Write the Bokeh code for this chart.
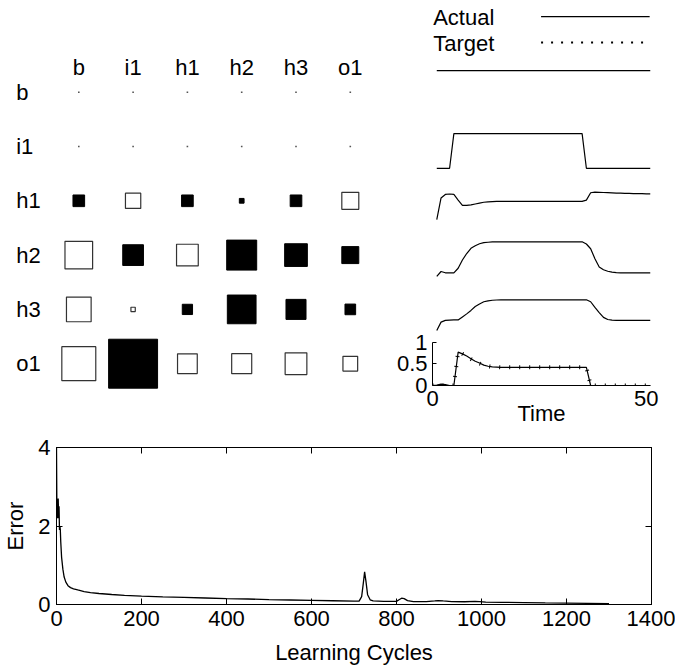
import numpy as np
from bokeh.plotting import figure
from bokeh.layouts import column, row
from bokeh.models import Range1d, FixedTicker, LinearAxis, Label, Arrow
from bokeh.core.properties import value
from bokeh.embed import file_html
from bokeh.resources import INLINE

FONT = "Liberation Sans"
FS = "22px"

# ------------------------------------------------------------------ data
UNITS = ["b", "i1", "h1", "h2", "h3", "o1"]

# Hinton diagram: WEIGHTS[receiving unit][sending unit]; positive = filled
WEIGHTS = [
    [0.0, 0.0, 0.0, 0.0, 0.0, 0.0],
    [0.0, 0.0, 0.0, 0.0, 0.0, 0.0],
    [1.18, -1.55, 1.18, 0.48, 1.18, -1.72],
    [-2.80, 2.10, -2.20, 3.04, 2.30, 1.72],
    [-2.50, -0.44, 1.04, 2.91, 2.03, 1.08],
    [-3.44, 4.96, -2.00, -2.03, -2.20, -1.49],
]

# unit activations over time (hidden/input traces are recorded for t = 1..51)
T_UNIT = list(range(1, 52))
ACT_B = [1.0, 1.0, 1.0, 1.0, 1.0, 1.0, 1.0, 1.0, 1.0, 1.0,
         1.0, 1.0, 1.0, 1.0, 1.0, 1.0, 1.0, 1.0, 1.0, 1.0,
         1.0, 1.0, 1.0, 1.0, 1.0, 1.0, 1.0, 1.0, 1.0, 1.0,
         1.0, 1.0, 1.0, 1.0, 1.0, 1.0, 1.0, 1.0, 1.0, 1.0,
         1.0, 1.0, 1.0, 1.0, 1.0, 1.0, 1.0, 1.0, 1.0, 1.0, 1.0]
ACT_I1 = [0.0, 0.0, 0.0, 0.0, 0.8, 0.8, 0.8, 0.8, 0.8, 0.8,
          0.8, 0.8, 0.8, 0.8, 0.8, 0.8, 0.8, 0.8, 0.8, 0.8,
          0.8, 0.8, 0.8, 0.8, 0.8, 0.8, 0.8, 0.8, 0.8, 0.8,
          0.8, 0.8, 0.8, 0.8, 0.8, 0.0, 0.0, 0.0, 0.0, 0.0,
          0.0, 0.0, 0.0, 0.0, 0.0, 0.0, 0.0, 0.0, 0.0, 0.0, 0.0]
ACT_H1 = [0.07, 0.57, 0.65, 0.66, 0.65, 0.52, 0.40, 0.40, 0.41, 0.43,
          0.45, 0.47, 0.48, 0.485, 0.49, 0.49, 0.49, 0.49, 0.49, 0.49,
          0.49, 0.49, 0.49, 0.49, 0.49, 0.49, 0.49, 0.49, 0.49, 0.49,
          0.49, 0.49, 0.49, 0.49, 0.49, 0.52, 0.69, 0.705, 0.70, 0.695,
          0.69, 0.685, 0.68, 0.68, 0.675, 0.675, 0.67, 0.67, 0.67, 0.665, 0.665]
ACT_H2 = [0.01, 0.125, 0.095, 0.095, 0.095, 0.20, 0.39, 0.54, 0.66, 0.72,
          0.765, 0.79, 0.80, 0.81, 0.81, 0.81, 0.81, 0.81, 0.81, 0.81,
          0.81, 0.81, 0.81, 0.81, 0.81, 0.81, 0.81, 0.81, 0.81, 0.81,
          0.81, 0.81, 0.81, 0.81, 0.81, 0.76, 0.65, 0.42, 0.23, 0.165,
          0.13, 0.11, 0.10, 0.095, 0.095, 0.095, 0.095, 0.095, 0.095, 0.095, 0.095]
ACT_H3 = [0.016, 0.21, 0.25, 0.255, 0.26, 0.26, 0.33, 0.40, 0.48, 0.57,
          0.63, 0.68, 0.70, 0.715, 0.72, 0.725, 0.725, 0.725, 0.725, 0.725,
          0.725, 0.725, 0.725, 0.725, 0.725, 0.725, 0.725, 0.725, 0.725, 0.725,
          0.725, 0.725, 0.725, 0.725, 0.725, 0.725, 0.68, 0.55, 0.43, 0.32,
          0.27, 0.255, 0.25, 0.25, 0.25, 0.25, 0.25, 0.25, 0.25, 0.25, 0.25]

# output unit (t = 0..51)
T_OUT = list(range(0, 52))
ACT_O1 = [0.0, 0.01, 0.03, 0.02, 0.0, 0.0, 0.77, 0.73, 0.68, 0.62,
          0.56, 0.52, 0.47, 0.445, 0.43, 0.425, 0.42, 0.42, 0.42, 0.42,
          0.42, 0.42, 0.42, 0.42, 0.42, 0.42, 0.42, 0.42, 0.42, 0.42,
          0.42, 0.42, 0.42, 0.42, 0.42, 0.42, 0.42, 0.0, 0.0, 0.0,
          0.0, 0.0, 0.0, 0.0, 0.0, 0.0, 0.0, 0.0, 0.0, 0.0, 0.0, 0.0]
TARGET_O1 = [0.0, 0.0, 0.0, 0.0, 0.0, 0.0, 0.78, 0.73, 0.67, 0.61,
             0.56, 0.51, 0.47, 0.445, 0.43, 0.425, 0.42, 0.42, 0.42, 0.42,
             0.42, 0.42, 0.42, 0.42, 0.42, 0.42, 0.42, 0.42, 0.42, 0.42,
             0.42, 0.42, 0.42, 0.42, 0.42, 0.42, 0.42, 0.0, 0.0, 0.0,
             0.0, 0.0, 0.0, 0.0, 0.0, 0.0, 0.0, 0.0, 0.0, 0.0, 0.0, 0.0]
TRACES = [ACT_B, ACT_I1, ACT_H1, ACT_H2, ACT_H3]

# learning curve
ERR_CYCLES = [0, 1, 2, 3, 4, 5, 6, 7, 8, 9,
              10, 12, 15, 18, 22, 27, 33, 40, 50, 65,
              80, 100, 130, 160, 200, 250, 300, 350, 400, 450,
              500, 550, 600, 650, 700, 712, 718, 722, 725, 728,
              732, 738, 745, 770, 800, 806, 812, 818, 826, 840,
              870, 890, 898, 910, 930, 960, 985, 995, 1010, 1050,
              1100, 1150, 1200, 1250, 1300]
ERR_VALUES = [4.0, 2.3, 2.2, 2.6, 2.7, 2.2, 2.5, 1.9, 2.0, 1.9,
              1.6, 1.2, 0.9, 0.7, 0.57, 0.48, 0.43, 0.40, 0.37, 0.33,
              0.30, 0.28, 0.255, 0.235, 0.215, 0.195, 0.18, 0.165, 0.15, 0.14,
              0.125, 0.115, 0.105, 0.095, 0.085, 0.085, 0.2, 0.55, 0.83, 0.6,
              0.25, 0.12, 0.09, 0.08, 0.08, 0.12, 0.16, 0.15, 0.10, 0.075,
              0.075, 0.09, 0.10, 0.09, 0.075, 0.07, 0.08, 0.075, 0.06, 0.055,
              0.05, 0.04, 0.035, 0.03, 0.02]

ERR_XTICKS = [0, 200, 400, 600, 800, 1000, 1200, 1400]
ERR_YTICKS = [0, 2, 4]
OUT_YTICKS = [0, 0.5, 1]
TIME_TICKS = [0, 50]

# ------------------------------------------------------------------ layout constants
CELL_PX = 54.3                 # pitch of the Hinton grid
COL0_X, ROW0_Y = 78.3, 91.7    # centre of first Hinton cell
WEIGHT_PX = 9.87               # square side per unit of weight
HW = 392                       # Hinton canvas width

TW, TH = 283, 430              # traces canvas (same height as Hinton)
T_BL, T_BR, T_BT, T_BB = 40, 25, 0, 45
BAND_PX = 43.3                 # pixels per activation unit
O1_ZERO_Y = TH - T_BB          # pixel row of o1 = 0 (bottom axis)

EW, EH = 675, 237
E_BL, E_BR, E_BT, E_BB = 51, 24, 17, 60


def style_axis(ax, tick_in=0):
    ax.major_label_text_font = FONT
    ax.major_label_text_font_size = FS
    ax.major_label_text_color = "black"
    ax.axis_label_text_font = FONT
    ax.axis_label_text_font_size = FS
    ax.axis_label_text_font_style = "normal"
    ax.axis_label_text_color = "black"
    ax.axis_line_color = "black"
    ax.major_tick_line_color = "black"
    ax.major_tick_in = tick_in
    ax.major_tick_out = 0
    ax.minor_tick_line_color = None


# ------------------------------------------------------------------ Hinton diagram
hin = figure(width=HW, height=TH, output_backend="svg", toolbar_location=None,
             x_range=Range1d(-COL0_X / CELL_PX, (HW - COL0_X) / CELL_PX),
             y_range=Range1d((TH - ROW0_Y) / CELL_PX, -ROW0_Y / CELL_PX),
             min_border=0)
hin.axis.visible = False
hin.grid.visible = False
hin.outline_line_color = None

fx, fy, fs, ox, oy, osz, zx, zy = [], [], [], [], [], [], [], []
for i in range(len(UNITS)):
    for j in range(len(UNITS)):
        w = WEIGHTS[i][j]
        side = abs(w) * WEIGHT_PX / CELL_PX
        if w > 0:
            fx.append(j); fy.append(i); fs.append(side)
        elif w < 0:
            ox.append(j); oy.append(i); osz.append(side)
        else:
            zx.append(j); zy.append(i)

hin.rect(x=fx, y=fy, width=fs, height=fs, fill_color="black", line_color="black")
hin.rect(x=ox, y=oy, width=osz, height=osz, fill_color="white", line_color="#333333",
         line_width=1.2)
hin.scatter(x=zx, y=zy, marker="square", size=1.6, fill_color="#555555", line_color=None)

idx = list(range(len(UNITS)))
hin.text(x=idx, y=[-0.455] * len(UNITS), text=UNITS, text_font=value(FONT),
         text_font_size=value(FS), text_align="center", text_baseline="middle",
         text_color="black")
hin.text(x=[-1.153] * len(UNITS), y=idx, text=UNITS, text_font=value(FONT),
         text_font_size=value(FS), text_align="left", text_baseline="middle",
         text_color="black")

# ------------------------------------------------------------------ activation traces
tr = figure(width=TW, height=TH, output_backend="svg", toolbar_location=None,
            x_range=Range1d(0, 51),
            y_range=Range1d(0, O1_ZERO_Y / BAND_PX),
            min_border_left=T_BL, min_border_right=T_BR,
            min_border_top=T_BT, min_border_bottom=T_BB)
tr.grid.visible = False
tr.outline_line_color = None
style_axis(tr.xaxis[0], tick_in=0)
style_axis(tr.yaxis[0], tick_in=4)
tr.xaxis[0].ticker = FixedTicker(ticks=TIME_TICKS)
tr.xaxis[0].axis_label = "Time"
tr.xaxis[0].major_label_standoff = 5
tr.xaxis[0].axis_label_standoff = -8
tr.yaxis[0].ticker = FixedTicker(ticks=OUT_YTICKS)
tr.yaxis[0].bounds = (0, 1)
tr.yaxis[0].major_label_overrides = {0: "0", 0.5: "0.5", 1: "1"}
tr.yaxis[0].major_label_standoff = 5

row_pitch = CELL_PX / BAND_PX
for k, trace in enumerate(TRACES):
    off = (len(UNITS) - 1 - k) * row_pitch
    tr.line(T_UNIT, np.array(trace) + off, line_color="black", line_width=1.2)

tr.line(T_OUT, TARGET_O1, line_color="black", line_width=4, line_dash="1 9")
tr.line(T_OUT, ACT_O1, line_color="black", line_width=1.2)

# key
tr.add_layout(Label(x=0.15, y=8.50, text="Actual", text_font=FONT, text_font_size=FS,
                    text_baseline="middle", text_align="left", text_color="black"))
tr.add_layout(Label(x=0.15, y=7.90, text="Target", text_font=FONT, text_font_size=FS,
                    text_baseline="middle", text_align="left", text_color="black"))
tr.add_layout(Arrow(end=None, x_start=25.4, y_start=8.52, x_end=50.8, y_end=8.52,
                    line_color="black", line_width=1.2))
tr.add_layout(Arrow(end=None, x_start=25.4, y_start=7.92, x_end=50.8, y_end=7.92,
                    line_color="black", line_width=2, line_dash="2 8"))

# ------------------------------------------------------------------ error curve
ef = figure(width=EW, height=EH, output_backend="svg", toolbar_location=None,
            x_range=Range1d(0, 1400), y_range=Range1d(0, 4),
            min_border_left=E_BL, min_border_right=E_BR, min_border_top=E_BT,
            min_border_bottom=E_BB)
ef.grid.visible = False
ef.outline_line_color = "black"
style_axis(ef.xaxis[0], tick_in=6)
style_axis(ef.yaxis[0], tick_in=6)
ef.xaxis[0].ticker = FixedTicker(ticks=ERR_XTICKS)
ef.yaxis[0].ticker = FixedTicker(ticks=ERR_YTICKS)
ef.xaxis[0].axis_label = "Learning Cycles"
ef.yaxis[0].axis_label = "Error"
ef.xaxis[0].major_label_standoff = 6
ef.xaxis[0].axis_label_standoff = 11
ef.yaxis[0].major_label_standoff = 6
ef.yaxis[0].axis_label_standoff = 7

top_ax = LinearAxis(ticker=FixedTicker(ticks=ERR_XTICKS))
right_ax = LinearAxis(ticker=FixedTicker(ticks=ERR_YTICKS))
for ax in (top_ax, right_ax):
    style_axis(ax, tick_in=6)
    ax.major_label_text_font_size = "1px"
    ax.major_label_text_alpha = 0
    ax.major_label_standoff = 0
ef.add_layout(top_ax, "above")
ef.add_layout(right_ax, "right")

ef.line(ERR_CYCLES, ERR_VALUES, line_color="black", line_width=1.3)

layout = column(row(column(hin), tr), ef)
open("out.html", "w").write(file_html(layout, INLINE))
